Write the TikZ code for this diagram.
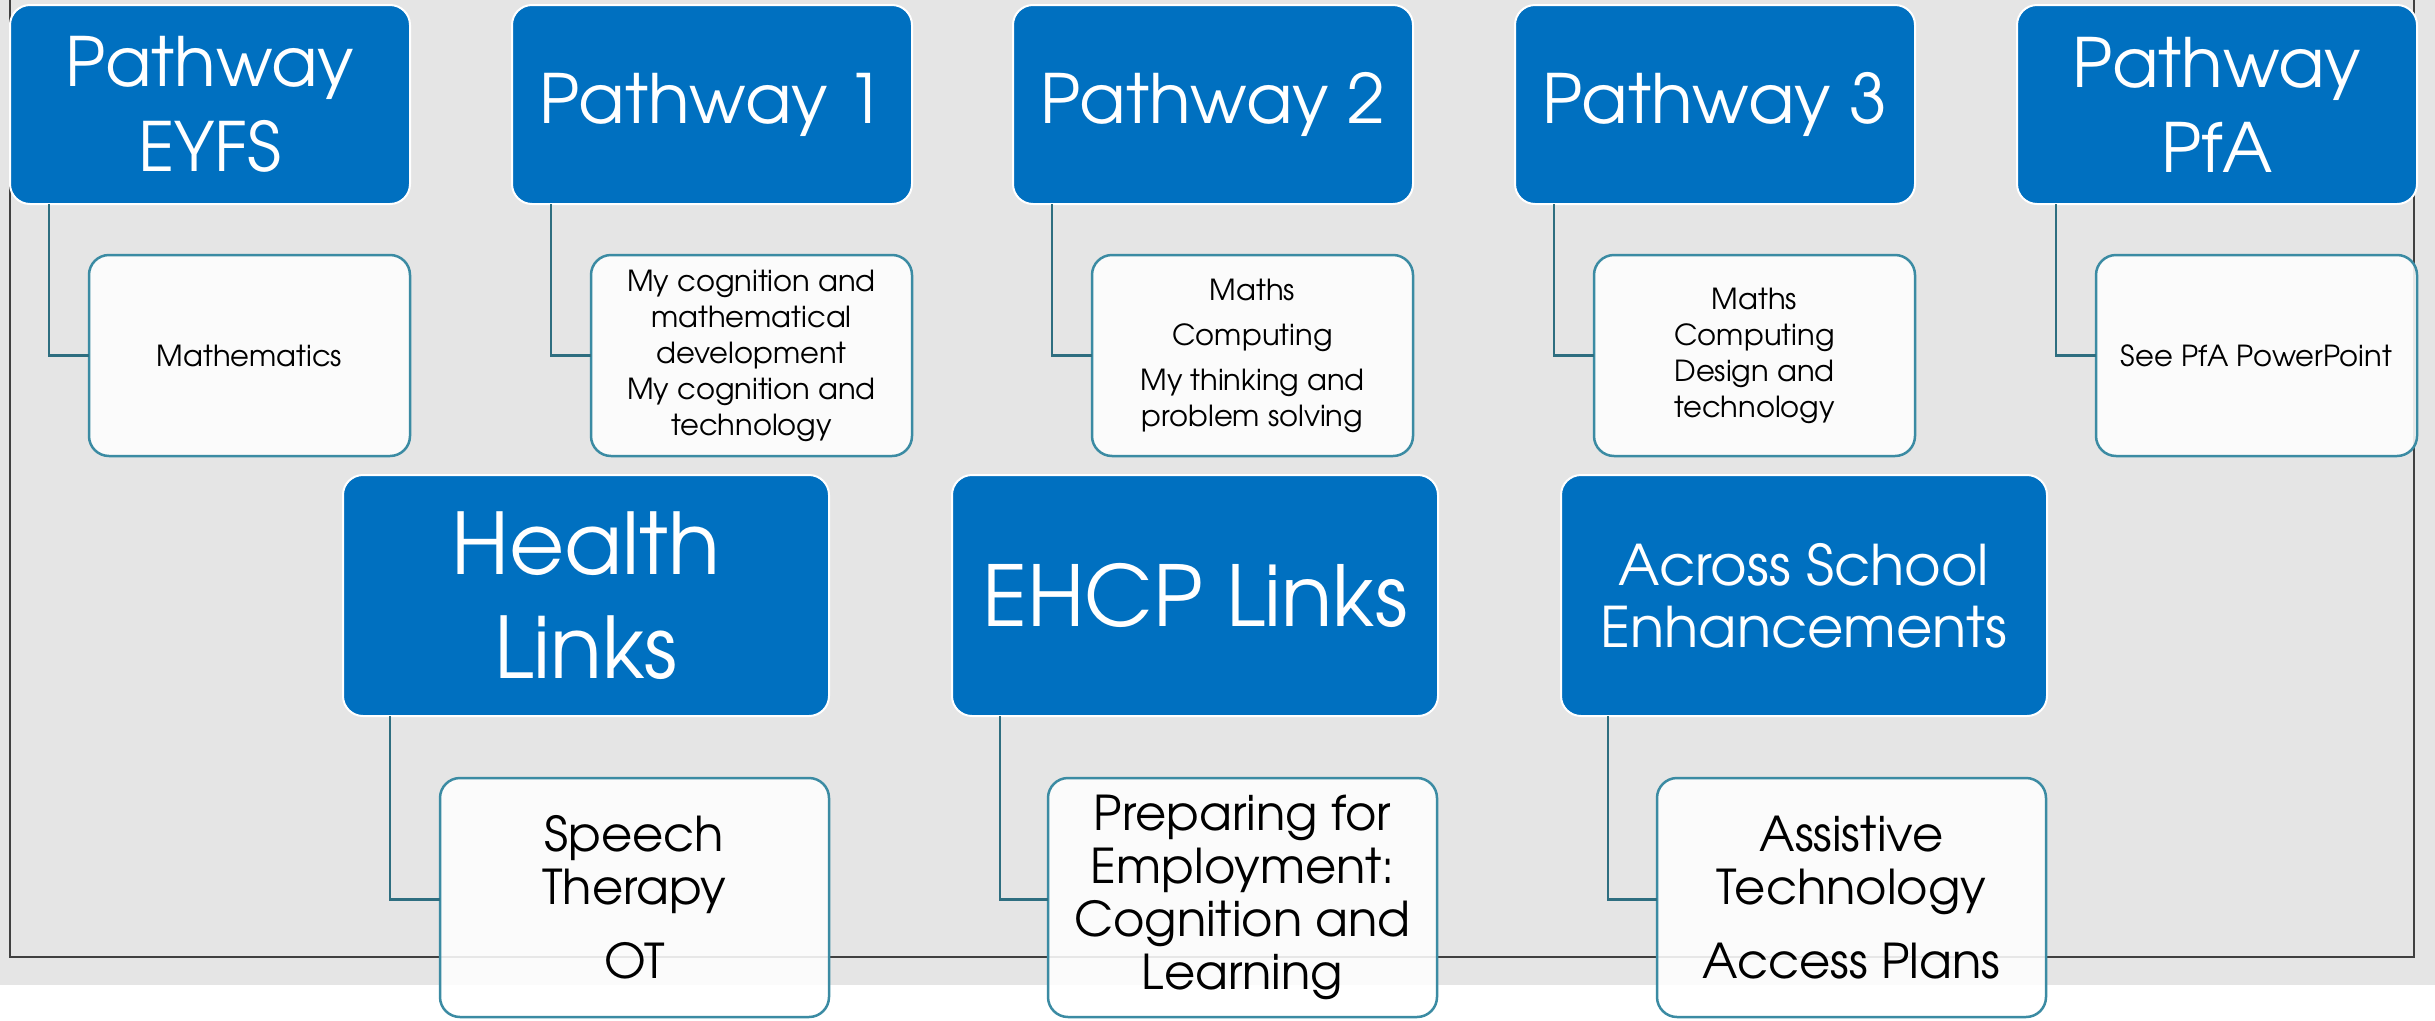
\documentclass[tikz,border=0pt]{standalone}
\usepackage{fontspec}
\setmainfont{TeX Gyre Adventor}
\definecolor{pblue}{HTML}{0070C0}
\definecolor{cborder}{HTML}{3B8BA3}
\definecolor{connc}{HTML}{2E6E80}
\definecolor{bggrey}{HTML}{E5E5E5}
\definecolor{framec}{HTML}{404040}
\tikzset{
  parentbox/.style={draw=white, line width=2pt, fill=pblue, rounded corners=20pt, text=white,
    align=center, anchor=north west, inner sep=0pt, outer sep=0pt},
  childbox/.style={draw=cborder, line width=2.5pt, fill=white, fill opacity=0.88, text opacity=1,
    rounded corners=20pt, align=center, anchor=north west, inner sep=0pt, outer sep=0pt, text=black},
  topparent/.style={parentbox, minimum width=400pt, minimum height=199pt, font=\fontsize{68}{85}\selectfont},
  topchild/.style={childbox, minimum width=321pt, minimum height=201pt, font=\fontsize{29}{36}\selectfont},
  botparent/.style={parentbox, minimum width=486pt, minimum height=241pt},
  botchild/.style={childbox, minimum width=389pt, minimum height=239pt, font=\fontsize{48}{53}\selectfont},
  conn/.style={draw=connc, line width=2.5pt},
}
\begin{document}
\begin{tikzpicture}[x=1pt,y=-1pt]
\useasboundingbox (0,0) rectangle (2435,1020);
\fill[white] (0,0) rectangle (2435,1020);
\fill[bggrey] (0,0) rectangle (2435,985);
\draw[framec, line width=2.5pt] (10,-20) rectangle (2414,957);

% top row parents
\node[topparent] (pe) at (10,5) {Pathway\\EYFS};
\node[topparent] (p1) at (512,5) {Pathway 1};
\node[topparent] (p2) at (1013,5) {Pathway 2};
\node[topparent] (p3) at (1515,5) {Pathway 3};
\node[topparent] (pp) at (2017,5) {Pathway\\PfA};

% top row children
\node[topchild] (ce) at (89,255) {Mathematics};
\node[topchild] (c1) at (591,255) {My cognition and\\mathematical\\development\\My cognition and\\technology};
\node[topchild] (c2) at (1092,255) {Maths\\[9pt]Computing\\[9pt]My thinking and\\problem solving};
\node[topchild] (c3) at (1594,255) {Maths\\Computing\\Design and\\technology};
\node[topchild] (cp) at (2096,255) {See PfA PowerPoint};

% bottom row parents
\node[botparent, font=\fontsize{85}{104}\selectfont] (hl) at (343,475) {Health\\Links};
\node[botparent, font=\fontsize{84}{100}\selectfont] (el) at (952,475) {EHCP Links};
\node[botparent, font=\fontsize{56}{62}\selectfont] (al) at (1561,475) {Across School\\Enhancements};

% bottom row children
\node[botchild] (hc) at (440,778) {Speech\\Therapy\\[21pt]OT};
\node[botchild] (ec) at (1048,778) {Preparing for\\Employment:\\Cognition and\\Learning};
\node[botchild] (ac) at (1657,778) {Assistive\\Technology\\[21pt]Access Plans};

% connectors
\draw[conn] ([xshift=39pt]pe.south west) |- (ce.west);
\draw[conn] ([xshift=39pt]p1.south west) |- (c1.west);
\draw[conn] ([xshift=39pt]p2.south west) |- (c2.west);
\draw[conn] ([xshift=39pt]p3.south west) |- (c3.west);
\draw[conn] ([xshift=39pt]pp.south west) |- (cp.west);
\draw[conn] ([xshift=47pt]hl.south west) |- ([yshift=-2pt]hc.west);
\draw[conn] ([xshift=48pt]el.south west) |- ([yshift=-2pt]ec.west);
\draw[conn] ([xshift=47pt]al.south west) |- ([yshift=-2pt]ac.west);
\end{tikzpicture}
\end{document}
